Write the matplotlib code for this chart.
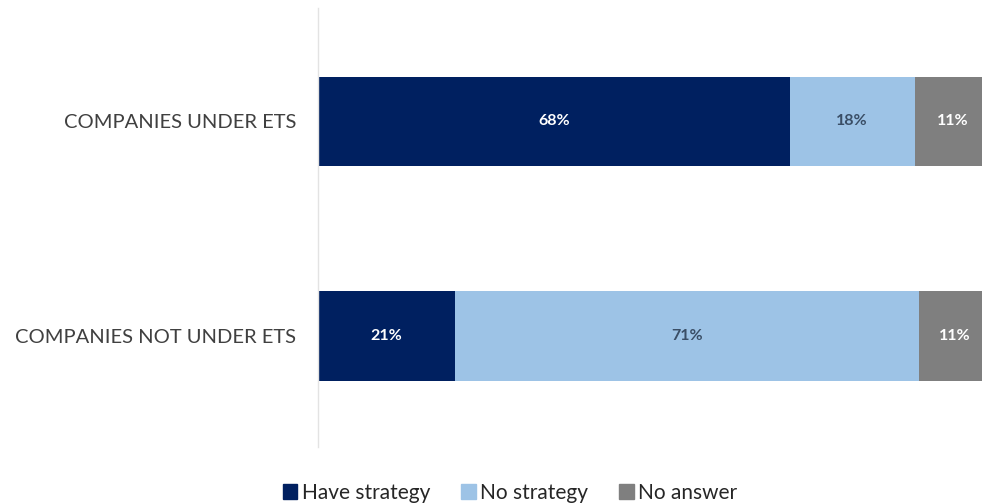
import matplotlib.pyplot as plt
from matplotlib.patches import Patch

# DATA
CATEGORIES = ['COMPANIES NOT UNDER ETS', 'COMPANIES UNDER ETS']
SERIES = ['Have strategy', 'No strategy', 'No answer']
HAVE_STRATEGY = [21, 68]
NO_STRATEGY = [71, 18]
NO_ANSWER = [11, 11]

COLORS = ['#002060', '#9DC3E6', '#7F7F7F']
LABEL_COLORS = ['white', '#3A4E66', 'white']

plt.rcParams['font.family'] = ['Lato', 'DejaVu Sans']

fig = plt.figure(figsize=(9.82, 5.03), dpi=100)
# axes runs a bit past the right edge of the figure
ax = fig.add_axes([318 / 982, 56 / 503, 673 / 982, 439 / 503])

values = [HAVE_STRATEGY, NO_STRATEGY, NO_ANSWER]
totals = [sum(v[i] for v in values) for i in range(len(CATEGORIES))]
ypos = list(range(len(CATEGORIES)))

left = [0.0] * len(CATEGORIES)
for vals, color, tcolor in zip(values, COLORS, LABEL_COLORS):
    widths = [v / t for v, t in zip(vals, totals)]
    ax.barh(ypos, widths, left=left, height=0.42, color=color)
    for y, l, w, v in zip(ypos, left, widths, vals):
        ax.text(l + w / 2, y, f'{v}%', ha='center', va='center',
                color=tcolor, fontsize=11.5, fontweight='bold')
    left = [l + w for l, w in zip(left, widths)]

ax.set_xlim(0, 1)
ax.set_ylim(-0.52, 1.53)
ax.set_yticks(ypos)
ax.set_yticklabels(CATEGORIES, fontsize=14.5, color='#404040')
ax.tick_params(axis='y', length=0, pad=15.5)
ax.set_xticks([])
for side in ['top', 'right', 'bottom']:
    ax.spines[side].set_visible(False)
ax.spines['left'].set_color('#E3E3E3')
ax.spines['left'].set_linewidth(1)

handles = [Patch(color=c, label=s) for c, s in zip(COLORS, SERIES)]
fig.legend(handles=handles, loc='center', bbox_to_anchor=(510 / 982, 10 / 503),
           ncol=3, frameon=False, fontsize=15, handlelength=0.7, handleheight=0.7,
           handletextpad=0.2, columnspacing=1.5, labelcolor='#262626')

fig.savefig('out.png', dpi=100)
